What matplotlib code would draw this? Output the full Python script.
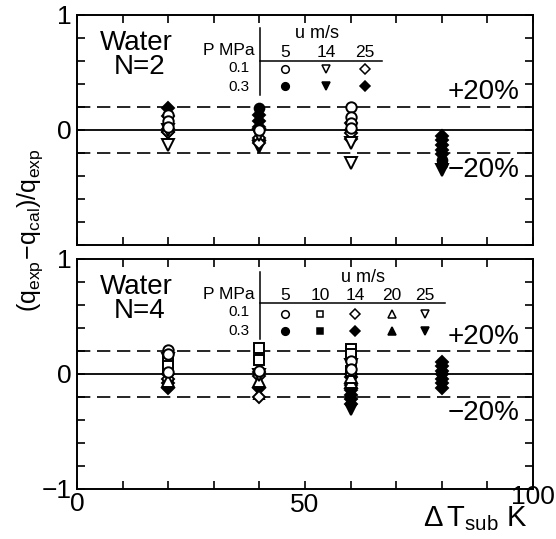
import numpy as np
import matplotlib.pyplot as plt
from matplotlib.transforms import blended_transform_factory

plt.rcParams['font.family'] = ['Liberation Sans', 'DejaVu Sans']
plt.rcParams['mathtext.fontset'] = 'custom'
plt.rcParams['mathtext.rm'] = 'Liberation Sans'
plt.rcParams['mathtext.it'] = 'Liberation Sans'
plt.rcParams['mathtext.bf'] = 'Liberation Sans:bold'

# ----------------- data (y = (q_exp - q_cal)/q_exp, keyed by dT_sub K) -----------------
# N = 2
n2_p01_u5 = {20: [0.13, 0.08, 0.03], 40: [0.0], 60: [0.20, 0.11, 0.06, 0.02]}
n2_p01_u14 = {20: [0.0, -0.13], 40: [-0.04], 60: [-0.11, -0.29]}
n2_p01_u25 = {20: [0.01, -0.02], 40: [-0.07, -0.11], 60: [0.0, -0.03]}
n2_p03_u5 = {40: [0.19], 80: [-0.26, -0.30]}
n2_p03_u14 = {40: [-0.15], 80: [-0.35]}
n2_p03_u25 = {20: [0.19, 0.12, -0.02], 40: [0.13, 0.08, 0.03, -0.09],
              60: [0.06, -0.08], 80: [-0.05, -0.09, -0.13, -0.17, -0.21]}
n2_speeds = ["5", "14", "25"]

# N = 4
n4_p01_u5 = {20: [0.21, 0.17, 0.02], 40: [0.03], 60: [0.11, 0.04]}
n4_p01_u10 = {20: [0.12, 0.07], 40: [0.23, 0.12], 60: [0.22, 0.17, 0.03]}
n4_p01_u14 = {20: [-0.04], 40: [-0.02, -0.20], 60: [0.0]}
n4_p01_u20 = {20: [-0.06], 40: [-0.06], 60: [-0.07, -0.03]}
n4_p01_u25 = {20: [0.13], 40: [-0.01], 60: [0.08]}
n4_p03_u5 = {40: [0.01], 60: [-0.02]}
n4_p03_u10 = {20: [0.05], 60: [0.02]}
n4_p03_u14 = {20: [0.0, -0.08, -0.12], 40: [0.02, -0.12],
              60: [-0.03, -0.10, -0.14, -0.18, -0.22, -0.26],
              80: [0.10, 0.07, 0.03, 0.0, -0.04, -0.08, -0.12]}
n4_p03_u20 = {40: [-0.07, -0.17], 60: [-0.17]}
n4_p03_u25 = {20: [-0.10], 60: [-0.31]}
n4_speeds = ["5", "10", "14", "20", "25"]

pressures = ["0.1", "0.3"]
band = 0.2
xtick_vals = [0, 50, 100]
xtick_text = ["0", "50", "100"]


def draw_series(ax, d, marker, filled, ms):
    xs, ys = [], []
    for x, vals in d.items():
        xs += [x] * len(vals)
        ys += vals
    ax.plot(xs, ys, ls="none", marker=marker, ms=ms, mew=1.4,
            mec="black", mfc="black" if filled else "white", zorder=4)


def setup_axes(ax, ylabels):
    ax.set_xlim(0, 100)
    ax.set_ylim(-1, 1)
    ax.set_xticks(np.arange(0, 101, 10))
    ax.set_xticklabels([])
    ax.set_yticks(np.arange(-1, 1.01, 0.2))
    ax.set_yticklabels(ylabels)
    ax.tick_params(direction="in", top=True, right=True, length=6, width=1.2,
                   labelsize=19, pad=4)
    for s in ax.spines.values():
        s.set_linewidth(1.4)
    ax.axhline(0, color="black", lw=1.3, zorder=2)
    for yy in (band, -band):
        ax.axhline(yy, color="black", lw=1.2, ls=(0, (8, 4)), zorder=2)


def draw_table(ax, title, speeds, col_x, line_end, ux, rows):
    lab_y, m1_y, m2_y, hline_y = rows
    ax.text(13.0, 0.76, "Water", ha="center", va="center", fontsize=20)
    ax.text(13.8, 0.55, title, ha="center", va="center", fontsize=20)
    ax.text(38.9, 0.69, "P MPa", ha="right", va="center", fontsize=12.5)
    ax.text(37.9, 0.535, pressures[0], ha="right", va="center", fontsize=11)
    ax.text(37.9, 0.375, pressures[1], ha="right", va="center", fontsize=11)
    ax.plot([40.1, 40.1], [0.30, 0.89], color="black", lw=1.1)
    ax.plot([40.1, line_end], [hline_y, hline_y], color="black", lw=1.1)
    ax.text(ux, 0.84, "u m/s", ha="center", va="center", fontsize=13)
    for x, s in zip(col_x, speeds):
        ax.text(x, lab_y, s, ha="center", va="center", fontsize=12.5)


fig = plt.figure(figsize=(5.56, 5.39), dpi=100)
ax1 = fig.add_axes([0.1385, 0.5455, 0.8201, 0.4267])
ax2 = fig.add_axes([0.1385, 0.0928, 0.8201, 0.4267])

lab_top = ["" for _ in range(11)]
lab_top[5] = "0"
lab_top[10] = "1"
lab_bot = list(lab_top)
lab_bot[0] = "\u22121"
setup_axes(ax1, lab_top)
setup_axes(ax2, lab_bot)

# ----------------- top panel: N=2 -----------------
draw_series(ax1, n2_p03_u25, "D", True, 6.5)
draw_series(ax1, n2_p03_u5, "o", True, 7)
draw_series(ax1, n2_p03_u14, "v", True, 8)
draw_series(ax1, n2_p01_u25, "D", False, 6.5)
draw_series(ax1, n2_p01_u14, "v", False, 8.5)
draw_series(ax1, n2_p01_u5, "o", False, 7.5)

col2 = [45.6, 54.6, 63.2]
draw_table(ax1, "N=2", n2_speeds, col2, 66.9, 52.6, (0.67, 0.53, 0.38, 0.60))
for x, m in zip(col2, ["o", "v", "D"]):
    ms = 4.8 if m == "D" else 5.5
    ax1.plot(x, 0.53, marker=m, ms=ms, mew=1.1, mec="black", mfc="white")
    ax1.plot(x, 0.38, marker=m, ms=ms, mew=1.1, mec="black", mfc="black")

ax1.text(97.0, 0.33, "+20%", ha="right", va="center", fontsize=20)
ax1.text(97.0, -0.35, "\u221220%", ha="right", va="center", fontsize=20)

# ----------------- bottom panel: N=4 -----------------
draw_series(ax2, n4_p03_u14, "D", True, 6.5)
draw_series(ax2, n4_p03_u20, "^", True, 7)
draw_series(ax2, n4_p03_u25, "v", True, 7)
draw_series(ax2, n4_p03_u5, "o", True, 7)
draw_series(ax2, n4_p03_u10, "s", True, 6.5)
draw_series(ax2, n4_p01_u14, "D", False, 6.5)
draw_series(ax2, n4_p01_u20, "^", False, 8)
draw_series(ax2, n4_p01_u25, "v", False, 8)
draw_series(ax2, n4_p01_u10, "s", False, 7)
draw_series(ax2, n4_p01_u5, "o", False, 7.5)

col4 = [45.6, 53.3, 61.0, 69.1, 76.3]
draw_table(ax2, "N=4", n4_speeds, col4, 80.7, 62.7, (0.68, 0.52, 0.37, 0.62))
for x, m in zip(col4, ["o", "s", "D", "^", "v"]):
    ms = 4.8 if m in ("D", "s") else 5.5
    ax2.plot(x, 0.52, marker=m, ms=ms, mew=1.1, mec="black", mfc="white")
    ax2.plot(x, 0.37, marker=m, ms=ms, mew=1.1, mec="black", mfc="black")

ax2.text(97.0, 0.32, "+20%", ha="right", va="center", fontsize=20)
ax2.text(97.0, -0.34, "\u221220%", ha="right", va="center", fontsize=20)

# x tick labels, placed by hand like the original
trans = blended_transform_factory(ax2.transData, ax2.transAxes)
xlab_y = [-0.065, -0.07, -0.035]
for v, t, yy in zip(xtick_vals, xtick_text, xlab_y):
    ax2.text(v, yy, t, transform=trans, ha="center", va="center", fontsize=19)

fig.text(0.054, 0.573, r"$\mathrm{(q_{exp}\!-\!q_{cal})/q_{exp}}$", rotation=90,
         ha="center", va="center", fontsize=18)
fig.text(0.855, 0.037, r"$\mathrm{\Delta\,T_{sub}\ K}$", ha="center", va="center",
         fontsize=21)

fig.savefig("out.png", dpi=100)
